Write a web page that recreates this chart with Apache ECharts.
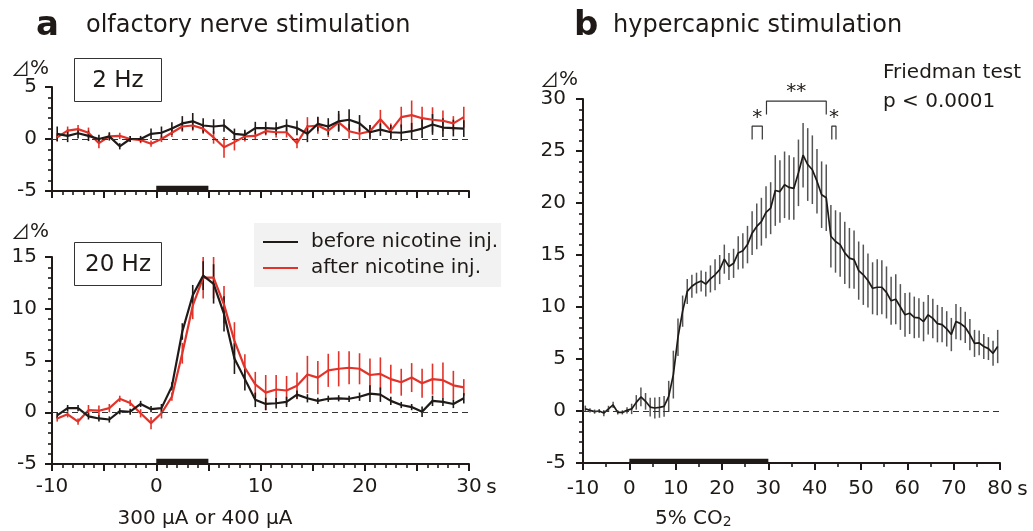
<!DOCTYPE html>
<html><head><meta charset="utf-8">
<script src="https://cdn.jsdelivr.net/npm/echarts@6/dist/echarts.min.js"></script>
<style>html,body{margin:0;padding:0;background:#fff}#c{width:1033px;height:531px}</style>
</head><body><div id="c"></div><script>
// ---------- data ----------
const timesA = Array.from({length: 40}, (_, i) => -9.5 + i);   // 1 s bins, -10..30 s
const timesB = Array.from({length: 90}, (_, i) => -9.5 + i);   // 1 s bins, -10..80 s

const before2Hz = [0.5,0.3,0.55,0.3,0,0.25,-0.7,0,0,0.5,0.6,1.0,1.5,1.7,1.3,1.2,1.3,0.5,0.4,1.05,
                   1.05,1.0,1.3,1.05,0.5,1.45,1.2,1.7,1.85,1.5,0.65,0.9,0.65,0.6,0.75,1.0,1.4,1.1,1.05,1.0];
const before2HzErr = [0.7,0.6,0.5,0.5,0.4,0.4,0.3,0.3,0.3,0.5,0.6,0.6,0.7,0.8,0.7,0.7,0.6,0.5,0.5,0.6,
                      0.6,0.6,0.6,0.7,0.8,0.7,0.8,1.0,1.0,0.8,0.7,0.6,0.7,0.8,0.8,0.9,1.0,0.9,0.8,0.8];
const after2Hz = [0.15,0.8,0.95,0.6,-0.4,0.25,0.3,0,-0.1,-0.45,0,0.6,1.2,1.3,1.0,0.15,-0.8,-0.3,0.25,0.3,
                  0.75,0.65,0.65,-0.4,1.2,1.3,0.8,1.6,0.75,0.5,0.75,1.9,0.8,2.1,2.3,2.0,1.85,1.75,1.5,2.1];
const after2HzErr = [0.4,0.4,0.4,0.5,0.5,0.3,0.3,0.3,0.3,0.3,0.3,0.4,0.5,0.5,0.5,0.6,1.0,0.8,0.5,0.4,
                     0.4,0.5,0.5,0.5,0.9,0.8,0.6,0.8,0.7,0.6,0.6,0.9,0.7,1.0,1.4,1.1,1.2,1.0,0.7,1.0];

const before20Hz = [-0.3,0.4,0.4,-0.4,-0.6,-0.7,0.1,0.05,0.8,0.3,0.4,2.5,7.8,11.3,13.2,12.4,9.5,5.2,3.2,1.2,
                    0.8,0.87,1.0,1.7,1.35,1.1,1.3,1.35,1.3,1.5,1.8,1.7,1.1,0.7,0.5,0.05,1.1,1.0,0.8,1.35];
const before20HzErr = [0.3,0.3,0.3,0.3,0.3,0.3,0.3,0.3,0.3,0.3,0.4,0.4,0.8,1.0,1.4,1.9,1.7,1.5,1.1,0.7,
                       0.6,0.5,0.5,0.4,0.4,0.3,0.3,0.3,0.3,0.4,0.8,0.7,0.4,0.3,0.3,0.5,0.5,0.4,0.4,0.5];
const after20Hz = [-0.6,-0.2,-0.9,0.2,0.15,0.4,1.3,0.9,-0.1,-1.05,-0.1,1.5,5.7,10.3,13.0,13.0,10.4,6.9,4.3,2.7,
                   1.9,2.2,2.1,2.55,3.65,3.35,4.05,4.2,4.3,4.2,3.6,3.7,3.2,2.9,3.35,2.8,3.2,3.1,2.6,2.4];
const after20HzErr = [0.3,0.3,0.3,0.5,0.5,0.4,0.3,0.3,0.4,0.6,0.5,0.4,1.0,1.3,2.0,2.0,1.8,1.8,1.3,1.2,
                      1.7,1.4,1.4,1.3,1.8,1.6,1.6,1.7,1.6,1.5,1.6,1.6,1.4,1.3,1.4,1.4,1.5,1.7,1.4,0.8];

const co2 = [0.22,0.06,-0.06,0,-0.2,0.2,0.58,-0.13,-0.13,0.06,0.2,0.83,1.35,0.93,0.38,0.29,0.35,0.45,1.4,
             3.5,7.1,9.6,11.5,12.0,12.3,12.5,12.2,12.7,13.1,13.6,14.6,
             13.9,14.2,15.2,15.4,16.0,17.1,17.75,18.2,19.1,19.5,21.2,21.1,21.75,21.5,21.4,22.9,24.6,23.7,23.2,22.1,20.8,20.5,16.8,16.3,16.0,15.2,14.7,14.55,13.5,
             13.1,12.55,11.8,11.9,11.9,11.4,10.6,10.75,10.0,9.25,9.4,9.0,8.95,8.6,9.25,8.9,8.4,8.3,7.9,7.35,8.6,8.4,8.05,7.35,6.5,6.55,6.2,6.0,5.55,6.2];
const co2Err = [0.3,0.2,0.2,0.2,0.3,0.3,0.3,0.2,0.2,0.3,0.5,
                0.7,0.9,0.8,0.9,1.0,1.0,1.0,1.5,
                2.3,1.8,1.5,1.2,1.1,1.0,1.0,1.2,1.3,1.5,1.4,1.4,
                1.3,1.4,1.6,1.7,1.8,2.1,2.2,2.3,2.5,2.5,
                3.4,3.0,3.2,3.1,3.0,3.2,3.1,3.5,3.3,3.1,3.2,3.2,
                3.0,3.0,3.1,3.0,2.9,2.8,2.8,2.9,
                2.6,2.5,2.7,2.6,2.5,2.3,2.4,2.2,2.1,2.0,
                2.0,1.9,1.9,1.9,1.9,1.8,1.7,1.7,1.6,1.7,
                1.6,1.5,1.5,1.3,1.2,1.2,1.1,1.2,1.6];

const stimA = [0, 5];      // stimulation period (s)
const stimB = [0, 30];     // 5% CO2 period (s)
const bracketStarL = [[26.5,26.1],[26.5,27.4],[28.7,27.4],[28.7,26.1]];
const bracketStar2 = [[29.6,28.5],[29.6,29.8],[42.5,29.8],[42.5,28.5]];
const bracketStarR = [[43.7,26.1],[43.7,27.4],[44.6,27.4],[44.6,26.1]];

// ---------- style ----------
const FONT = 'DejaVu Sans';
const INK = '#1f1a17';
const RED = '#e2332a';
const GRAY = '#555555';

const chart = echarts.init(document.getElementById('c'));

function pairs(t, v) { return t.map((x, i) => [x, v[i]]); }
function triples(t, v, e) { return t.map((x, i) => [x, v[i], e[i]]); }

function errSeries(name, idx, data, color, width) {
  return {
    name: name, type: 'custom', xAxisIndex: idx, yAxisIndex: idx, silent: true,
    data: data, encode: {x: 0, y: 1},
    renderItem: function (params, api) {
      const x = api.value(0), v = api.value(1), e = api.value(2);
      const p1 = api.coord([x, v - e]), p2 = api.coord([x, v + e]);
      return {type: 'line', shape: {x1: p1[0], y1: p1[1], x2: p2[0], y2: p2[1]},
              style: {stroke: color, lineWidth: width}};
    }
  };
}
function lineSeries(name, idx, data, color, width, extra) {
  return Object.assign({
    name: name, type: 'line', xAxisIndex: idx, yAxisIndex: idx, data: data,
    symbol: 'none', color: color, lineStyle: {color: color, width: width}, silent: true, animation: false
  }, extra || {});
}
const zeroLine = {silent: true, symbol: 'none', label: {show: false},
  lineStyle: {type: [6, 4], color: '#333', width: 1}, data: [{yAxis: 0}], animation: false};
function stimArea(range, top) {
  return {silent: true, itemStyle: {color: INK}, data: [[{xAxis: range[0], yAxis: -5}, {xAxis: range[1], yAxis: top}]]};
}

const axisCommon = {
  type: 'value',
  axisLine: {show: true, onZero: false, lineStyle: {color: INK, width: 2}},
  axisTick: {show: true, length: 7, lineStyle: {color: INK, width: 2}},
  minorTick: {show: true, length: 4, lineStyle: {color: INK, width: 1.6}},
  splitLine: {show: false}, minorSplitLine: {show: false},
  axisLabel: {fontFamily: FONT, fontSize: 20, color: INK}
};
function xAx(idx, min, max, interval, split, showLabel, margin) {
  return echarts.util.merge({
    gridIndex: idx, min: min, max: max, interval: interval,
    minorTick: {splitNumber: split},
    axisLabel: {show: showLabel, margin: margin, formatter: v => (v % 10 === 0 ? String(v) : '')}
  }, axisCommon, false);
}
function yAx(idx, min, max, margin) {
  return echarts.util.merge({
    gridIndex: idx, min: min, max: max, interval: 5,
    minorTick: {splitNumber: 5},
    axisLabel: {margin: margin}
  }, axisCommon, false);
}

const option = {
  animation: false,
  backgroundColor: '#fff',
  grid: [
    {left: 52, top: 87, width: 417, height: 104},
    {left: 52, top: 257, width: 417, height: 207},
    {left: 583, top: 99, width: 417, height: 364}
  ],
  xAxis: [xAx(0, -10, 30, 5, 5, false, 12), xAx(1, -10, 30, 5, 5, true, 13), xAx(2, -10, 80, 10, 2, true, 16)],
  yAxis: [yAx(0, -5, 5, 15), yAx(1, -5, 15, 15), yAx(2, -5, 30, 17)],
  legend: {
    data: ['before nicotine inj.', 'after nicotine inj.'],
    orient: 'vertical', left: 254, top: 223, backgroundColor: '#f2f2f2',
    padding: [9, 3, 9, 9], itemGap: 6, itemWidth: 35, itemHeight: 2, icon: 'rect',
    selectedMode: false,
    textStyle: {fontFamily: FONT, fontSize: 20, color: INK, padding: [0, 0, 0, 8]}
  },
  series: [
    // 2 Hz
    errSeries('e2a', 0, triples(timesA, after2Hz, after2HzErr), RED, 1.6),
    lineSeries('after nicotine inj.', 0, pairs(timesA, after2Hz), RED, 2.2),
    errSeries('e2b', 0, triples(timesA, before2Hz, before2HzErr), INK, 1.6),
    lineSeries('before nicotine inj.', 0, pairs(timesA, before2Hz), INK, 2.2,
      {markLine: zeroLine, markArea: stimArea(stimA, -4.5)}),
    // 20 Hz
    errSeries('e20a', 1, triples(timesA, after20Hz, after20HzErr), RED, 1.6),
    lineSeries('after nicotine inj.', 1, pairs(timesA, after20Hz), RED, 2.2),
    errSeries('e20b', 1, triples(timesA, before20Hz, before20HzErr), INK, 1.6),
    lineSeries('before nicotine inj.', 1, pairs(timesA, before20Hz), INK, 2.2,
      {markLine: zeroLine, markArea: stimArea(stimA, -4.5)}),
    // hypercapnia
    errSeries('eco2', 2, triples(timesB, co2, co2Err), GRAY, 1.5),
    lineSeries('hypercapnic', 2, pairs(timesB, co2), INK, 1.7,
      {markLine: zeroLine, markArea: stimArea(stimB, -4.6)}),
    lineSeries('br1', 2, bracketStarL, '#333', 1.2),
    lineSeries('br2', 2, bracketStar2, '#333', 1.2),
    lineSeries('br3', 2, bracketStarR, '#333', 1.2)
  ]
};
chart.setOption(option);

function px(idx, pt) { return chart.convertToPixel({gridIndex: idx}, pt); }
function txt(x, y, text, size, opts) {
  return {type: 'text', x: x, y: y, silent: true, z: 100,
    style: Object.assign({text: text, fontFamily: FONT, fontSize: size, fill: INK,
      textAlign: 'left', textVerticalAlign: 'middle'}, opts || {})};
}
function deltaPct(x, y) {
  return {type: 'text', x: x, y: y, silent: true, z: 100,
    style: {text: '{t|⊿}{p|%}', textVerticalAlign: 'middle',
      rich: {t: {fontFamily: 'Noto Sans CJK JP', fontSize: 19, fill: INK},
             p: {fontFamily: FONT, fontSize: 20, fill: INK}}}};
}
const sA = px(1, [30, -5]), sB = px(2, [80, -5]);
const s1 = px(2, [(bracketStarL[0][0] + bracketStarL[2][0]) / 2, bracketStarL[1][1]]);
const s2 = px(2, [(bracketStar2[0][0] + bracketStar2[2][0]) / 2, bracketStar2[1][1]]);
const s3 = px(2, [(bracketStarR[0][0] + bracketStarR[2][0]) / 2, bracketStarR[1][1]]);

chart.setOption({
  graphic: [
    txt(36, 26, 'a', 34, {fontWeight: 'bold'}),
    txt(86, 26, 'olfactory nerve stimulation', 24),
    txt(574, 26, 'b', 34, {fontWeight: 'bold'}),
    txt(613, 26, 'hypercapnic stimulation', 24),
    deltaPct(11, 69),
    deltaPct(11, 232),
    deltaPct(540, 80),
    {type: 'rect', shape: {x: 74.5, y: 58.5, width: 87, height: 43}, style: {fill: '#fff', stroke: '#333', lineWidth: 1}, z: 90},
    txt(118, 81, '2 Hz', 23, {textAlign: 'center'}),
    {type: 'rect', shape: {x: 74.5, y: 242.5, width: 87, height: 43}, style: {fill: '#fff', stroke: '#333', lineWidth: 1}, z: 90},
    txt(118, 265, '20 Hz', 23, {textAlign: 'center'}),
    txt(sA[0] + 11, sA[1] + 24, ' s', 20),
    txt(sB[0] + 11, sB[1] + 27, ' s', 20),
    txt(205, 519, '300 μA or 400 μA', 20, {textAlign: 'center'}),
    {type: 'text', x: 655, y: 519, silent: true, z: 100,
      style: {text: '{a|5% CO}{b|2}', textVerticalAlign: 'middle',
        rich: {a: {fontFamily: FONT, fontSize: 20, fill: INK},
               b: {fontFamily: FONT, fontSize: 14, fill: INK, padding: [6, 0, 0, 0]}}}},
    txt(883, 73, 'Friedman test', 20),
    txt(883, 102, 'p < 0.0001', 20),
    txt(s1[0], s1[1] - 8, '*', 20, {textAlign: 'center'}),
    txt(s2[0], s2[1] - 9, '**', 20, {textAlign: 'center'}),
    txt(s3[0], s3[1] - 8, '*', 20, {textAlign: 'center'})
  ]
});
</script></body></html>
